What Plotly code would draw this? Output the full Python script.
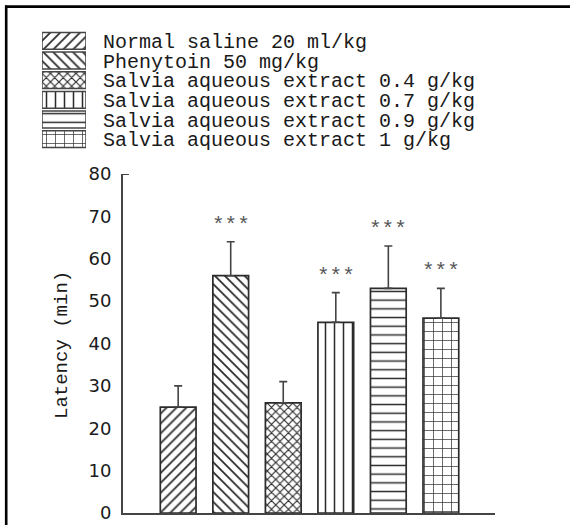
import plotly.graph_objects as go

# ---- data ----
groups = [
    "Normal saline 20 ml/kg",
    "Phenytoin 50 mg/kg",
    "Salvia aqueous extract 0.4 g/kg",
    "Salvia aqueous extract 0.7 g/kg",
    "Salvia aqueous extract 0.9 g/kg",
    "Salvia aqueous extract 1 g/kg",
]
latency = [25, 56, 26, 45, 53, 46]
error_upper = [5, 8, 5, 7, 10, 7]
significance = ["", "***", "", "***", "***", "***"]
y_ticks = [0, 10, 20, 30, 40, 50, 60, 70, 80]
y_title = "Latency (min)"

# ---- styles ----
pat_shapes = ["/", "\\", "x", "|", "-", "+"]
pat_sizes = [7, 7, 6, 9, 8.7, 9]
pat_solid = [0.25, 0.25, 0.35, 0.17, 0.17, 0.15]
INK = "#2b2b2b"
TXT = "#1a1a1a"
W, H = 570, 525

def px_x(p):
    return p / W

def px_y(p):
    return 1 - p / H

fig = go.Figure()

# main bars
fig.add_trace(go.Bar(
    x=groups, y=latency,
    width=0.68,
    marker=dict(
        color="white",
        line=dict(color=INK, width=1.7),
        pattern=dict(shape=pat_shapes, size=pat_sizes, solidity=pat_solid,
                     fgcolor=INK, bgcolor="white", fillmode="replace"),
    ),
    error_y=dict(type="data", symmetric=False, array=error_upper,
                 arrayminus=[0] * len(latency), color="#444", thickness=1.6, width=4),
    xaxis="x", yaxis="y", showlegend=False,
))

# legend swatches (second subplot)
fig.add_trace(go.Bar(
    x=[1] * len(groups), y=groups, orientation="h",
    width=0.86,
    marker=dict(
        color="white",
        line=dict(color="#444", width=1.5),
        pattern=dict(shape=pat_shapes, size=pat_sizes, solidity=pat_solid,
                     fgcolor=INK, bgcolor="white", fillmode="replace"),
    ),
    xaxis="x2", yaxis="y2", showlegend=False,
))

# significance stars
for g, v, e, s in zip(groups, latency, error_upper, significance):
    if s:
        fig.add_annotation(x=g, y=v + e, xref="x", yref="y", text=s,
                           showarrow=False, yanchor="bottom", yshift=3,
                           font=dict(family="Liberation Mono", size=21, color="#555"))

# y-axis title
fig.add_annotation(x=px_x(62), y=px_y(345), xref="paper", yref="paper",
                   xanchor="center", yanchor="middle",
                   text=y_title, textangle=-90, showarrow=False,
                   font=dict(family="Liberation Mono", size=19, color=TXT))

# small top stub on y axis and the scanned frame lines
shapes = [
    dict(type="line", xref="x domain", yref="y", x0=0, x1=0.016, y0=80, y1=80,
         line=dict(color="#444", width=2)),
    dict(type="line", xref="paper", yref="paper", x0=px_x(5), x1=1,
         y0=px_y(6.6), y1=px_y(6.6), line=dict(color="black", width=2.6)),
    dict(type="line", xref="paper", yref="paper", x0=px_x(6.2), x1=px_x(6.2),
         y0=0, y1=px_y(5.5), line=dict(color="black", width=2.6)),
]

fig.update_layout(
    width=W, height=H,
    template="none",
    paper_bgcolor="white", plot_bgcolor="white",
    margin=dict(l=0, r=0, t=0, b=0),
    bargap=0.2,
    shapes=shapes,
    xaxis=dict(domain=[px_x(123), px_x(495)], range=[-1.05, 6.03],
               showline=True, linecolor="#444", linewidth=2,
               showticklabels=False, ticks="", showgrid=False, zeroline=False,
               automargin=False, anchor="y"),
    yaxis=dict(domain=[px_y(513), px_y(174)], range=[0, 80],
               tickvals=y_ticks, ticktext=[str(t) for t in y_ticks],
               showline=True, linecolor="#444", linewidth=2,
               ticks="", ticklabelstandoff=6, showgrid=False, zeroline=False,
               tickfont=dict(family="DejaVu Sans", size=18, color=TXT),
               automargin=False, anchor="x"),
    xaxis2=dict(domain=[px_x(42), px_x(86)], range=[0, 1], visible=False,
                anchor="y2", fixedrange=True),
    yaxis2=dict(domain=[px_y(149), px_y(31)], autorange="reversed",
                tickmode="array", tickvals=groups, ticktext=groups,
                side="right", anchor="x2", showline=False, ticks="",
                showgrid=False, zeroline=False, ticklabelstandoff=16,
                tickfont=dict(family="Liberation Mono", size=20, color=TXT),
                automargin=False),
)

fig.write_html("out.html", config={"displayModeBar": False},
               post_script="document.body.style.margin='0';")
